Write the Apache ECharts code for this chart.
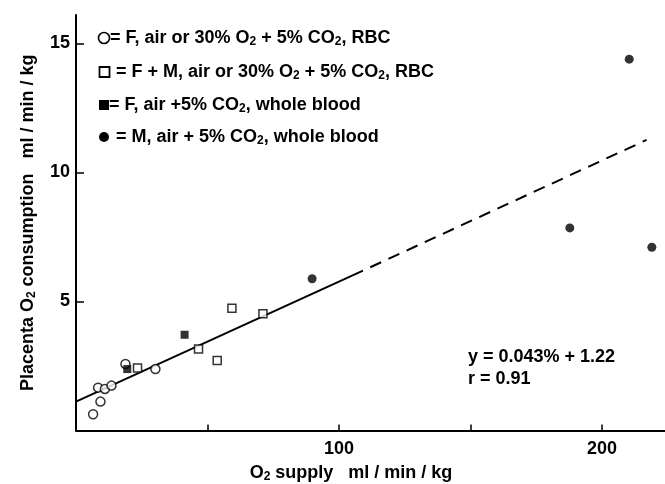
<!DOCTYPE html>
<html><head><meta charset="utf-8">
<script src="https://cdn.jsdelivr.net/npm/echarts@6/dist/echarts.min.js"></script>
<style>html,body{margin:0;padding:0;background:#fff}#c{width:665px;height:484px}</style>
</head><body><div id="c"></div>
<script>
// ---- data ----
const openCircleData   = [[6.5,0.63],[9.3,1.12],[8.4,1.66],[11.0,1.61],[13.5,1.74],[18.8,2.58],[30.2,2.38]];
const openSquareData   = [[23.4,2.42],[46.6,3.16],[53.7,2.71],[59.3,4.74],[71.1,4.52]];
const filledSquareData = [[19.5,2.38],[41.3,3.71]];
const filledCircleData = [[89.8,5.88],[187.8,7.85],[219.0,7.10],[210.4,14.39]];
const fitSolid  = [[0,1.12],[105,6.0]];
const fitDashed = [[105,6.0],[217,11.26]];
const xTickLabels = {100:'100', 200:'200'};
const yTickLabels = {5:'5', 10:'10', 15:'15'};
const legendLabels = [
  '= F, air or 30% O{s|2} + 5% CO{s|2}, RBC',
  ' = F + M, air or 30% O{s|2} + 5% CO{s|2}, RBC',
  '= F, air +5% CO{s|2}, whole blood',
  ' = M, air + 5% CO{s|2}, whole blood'
];
const equationLines = ['y = 0.043% + 1.22', 'r = 0.91'];
const xTitle = 'O{s|2} supply   ml / min / kg';
const yTitle = 'Placenta O{s|2} consumption   ml / min / kg';

const FONT = '"Liberation Sans", Arial, sans-serif';
const sub = {s:{fontSize:12, fontWeight:'bold', fontFamily:FONT, color:'#000', padding:[8,0,0,0]}};

const chart = echarts.init(document.getElementById('c'));
const legendRowsY = [38, 72, 105, 137];
const legendIcons = [
  {type:'circle', shape:{cx:104, cy:legendRowsY[0], r:5.5}, style:{fill:'#fff', stroke:'#000', lineWidth:1.6}},
  {type:'rect', shape:{x:99.5, y:legendRowsY[1]-5, width:10, height:10}, style:{fill:'#fff', stroke:'#000', lineWidth:1.8}},
  {type:'rect', shape:{x:99, y:legendRowsY[2]-5, width:10, height:10}, style:{fill:'#000'}},
  {type:'circle', shape:{cx:104, cy:legendRowsY[3], r:5}, style:{fill:'#000'}}
];
const textX = [110, 111, 109, 111];
const graphics = [];
legendIcons.forEach(g => graphics.push(g));
legendLabels.forEach((t,i) => graphics.push({
  type:'text', x:textX[i], y:legendRowsY[i],
  style:{text:t, rich:sub, font:'bold 18px '+FONT, fill:'#000', verticalAlign:'middle', align:'left'}
}));
equationLines.forEach((t,i) => graphics.push({
  type:'text', x:468, y:357 + i*22,
  style:{text:t, font:'bold 18px '+FONT, fill:'#000', verticalAlign:'middle', align:'left'}
}));
graphics.push({
  type:'text', x:351, y:473,
  style:{text:xTitle, rich:sub, font:'bold 18px '+FONT, fill:'#000', verticalAlign:'middle', align:'center'}
});

const axisCommon = {
  axisLine:{show:true, onZero:false, lineStyle:{color:'#000', width:2}},
  splitLine:{show:false},
};

chart.setOption({
  animation:false,
  backgroundColor:'#fff',
  grid:{left:76, right:0, top:15, bottom:53.5},
  xAxis:Object.assign({}, axisCommon, {
    type:'value', min:0, max:224, interval:50,
    axisTick:{show:true, inside:true, length:6, lineStyle:{color:'#000', width:1.5}},
    axisLabel:{interval:0, showMaxLabel:false, margin:10, color:'#000', fontWeight:'bold', fontSize:18, fontFamily:FONT,
      formatter:v => xTickLabels[v] || ''}
  }),
  yAxis:Object.assign({}, axisCommon, {
    type:'value', min:0, max:16.1, interval:5,
    axisTick:{show:true, inside:true, length:8, lineStyle:{color:'#000', width:1.5}},
    axisLabel:{showMaxLabel:false, margin:6, color:'#000', fontWeight:'bold', fontSize:18, fontFamily:FONT,
      formatter:v => yTickLabels[v] || ''},
    name:yTitle, nameLocation:'middle', nameRotate:90, nameGap:38,
    nameTextStyle:{color:'#000', fontWeight:'bold', fontSize:18, fontFamily:FONT, rich:sub}
  }),
  graphic:graphics,
  series:[
    {type:'line', data:fitSolid, showSymbol:false, symbol:'none', lineStyle:{color:'#000', width:2}, z:1},
    {type:'line', data:fitDashed, showSymbol:false, symbol:'none', lineStyle:{color:'#000', width:2, type:[12,8]}, z:1},
    {type:'scatter', data:openCircleData, symbol:'circle', symbolSize:9,
      itemStyle:{color:'#fff', borderColor:'#000', borderWidth:1.5}, z:3},
    {type:'scatter', data:openSquareData, symbol:'rect', symbolSize:8,
      itemStyle:{color:'#fff', borderColor:'#000', borderWidth:1.5}, z:3},
    {type:'scatter', data:filledSquareData, symbol:'rect', symbolSize:8,
      itemStyle:{color:'#000'}, z:3},
    {type:'scatter', data:filledCircleData, symbol:'circle', symbolSize:9,
      itemStyle:{color:'#000'}, z:3}
  ]
});
</script></body></html>
